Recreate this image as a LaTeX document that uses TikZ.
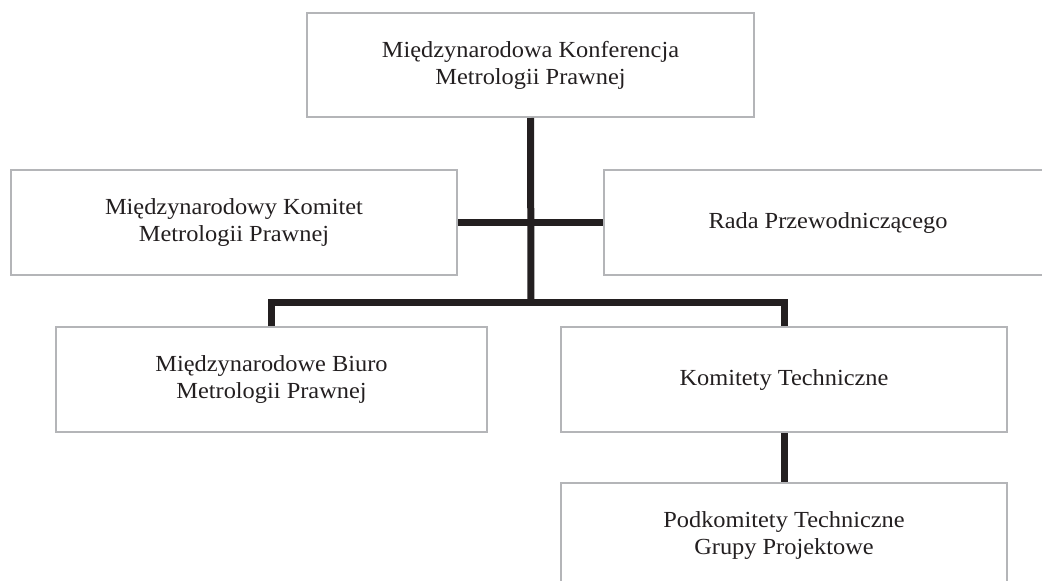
\documentclass[tikz,border=0pt]{standalone}
\usepackage{fontspec}
\setmainfont{Liberation Serif}[FakeStretch=1.06]
\definecolor{boxline}{HTML}{B4B5B8}
\definecolor{ink}{HTML}{231F20}
\begin{document}
\begin{tikzpicture}[x=1pt,y=-1pt,
  orgbox/.style={draw=boxline, line width=2pt, fill=white, rectangle, inner sep=0pt,
    align=center, text=ink, font=\fontsize{23}{27}\selectfont},
  link/.style={draw=ink, line width=7pt, line join=miter}]
\clip (0,0) rectangle (1042,581);
\node[orgbox, minimum width=447pt, minimum height=104pt] (mkmp) at (530.5,65) {Międzynarodowa Konferencja\\Metrologii Prawnej};
\node[orgbox, minimum width=446pt, minimum height=105pt] (komitet) at (234,222.5) {Międzynarodowy Komitet\\Metrologii Prawnej};
\node[orgbox, minimum width=448pt, minimum height=105pt] (rada) at (828,222.5) {Rada Przewodniczącego};
\node[orgbox, minimum width=431pt, minimum height=105pt] (biuro) at (271.5,379.5) {Międzynarodowe Biuro\\Metrologii Prawnej};
\node[orgbox, minimum width=446pt, minimum height=105pt] (kt) at (784,379.5) {Komitety Techniczne};
\node[orgbox, minimum width=446pt, minimum height=105pt] (pk) at (784,535.5) {Podkomitety Techniczne\\Grupy Projektowe};
\coordinate (bar) at (531,302);
\draw[link] (mkmp.south) -- (bar);
\draw[link] (komitet.east) -- (rada.west);
\draw[link] (biuro.north) -- (biuro.north |- bar) -| (kt.north);
\draw[link] (kt.south) -- (pk.north);
\end{tikzpicture}
\end{document}
